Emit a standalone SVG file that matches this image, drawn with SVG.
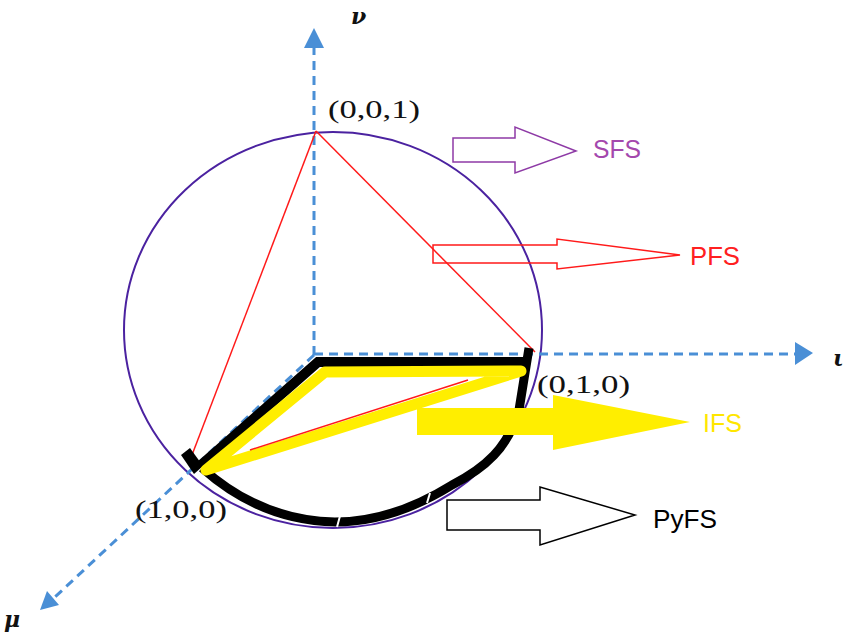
<svg xmlns="http://www.w3.org/2000/svg" width="850" height="640" viewBox="0 0 850 640">
<style>
.axis{stroke:#4a8fd6;stroke-width:3;stroke-dasharray:9 6;fill:none}
.ah{fill:#4a8fd6}
.red{stroke:#ff1a1a;stroke-width:1.5;fill:none}
.coord{font-family:"Liberation Serif","DejaVu Serif",serif;font-size:25px;fill:#111}
.greek{font-family:"DejaVu Serif","Liberation Serif",serif;font-style:italic;font-weight:bold;font-size:22px;fill:#111}
.lbl{font-family:"Liberation Sans",Arial,sans-serif;font-size:26px}
</style>
<rect width="850" height="640" fill="#fff"/>
<g id="circle"><ellipse cx="333" cy="330" rx="209" ry="198" fill="none" stroke="#4b22a0" stroke-width="2"/></g>
<g id="connectors">
<line class="axis" x1="314" y1="355" x2="314" y2="48"/>
<polygon class="ah" points="314,28 304,48 324,48"/>
<line class="axis" x1="314" y1="354" x2="797" y2="354"/>
<polygon class="ah" points="813,353 795,342 795,365"/>
<line class="axis" x1="314" y1="355" x2="55" y2="597"/>
<polygon class="ah" points="40,610 59,605 47,591"/>
<line class="red" x1="316" y1="131" x2="192" y2="455"/>
<line class="red" x1="316" y1="131" x2="535" y2="352"/>
</g>
<g id="pyfs-path">
<polyline points="200,466 318,362 528,362" fill="none" stroke="#000" stroke-width="10" stroke-linejoin="miter"/>
<path d="M529,348 L519,410 C 508,448 485,468 452,485 C 415,508 375,522 335,522 C 285,521 240,502 202,468" fill="none" stroke="#000" stroke-width="9"/>
<polygon points="181,455 190,448 203,466 194,474" fill="#000"/>
<line x1="340" y1="516" x2="337" y2="527" stroke="#fff" stroke-width="2"/>
<line x1="430" y1="493" x2="427" y2="503" stroke="#fff" stroke-width="2"/>
</g>
<g id="ifs-path">
<polygon points="206,470 325,372 521,371" fill="none" stroke="#ffee00" stroke-width="11" stroke-linejoin="round"/>
<line class="red" x1="250" y1="450" x2="468" y2="380"/>
</g>
<g id="label-001"><text class="coord" x="328" y="118" textLength="92" lengthAdjust="spacingAndGlyphs">(0,0,1)</text></g>
<g id="label-010"><text class="coord" x="537" y="393" textLength="93" lengthAdjust="spacingAndGlyphs">(0,1,0)</text></g>
<g id="label-100"><text class="coord" x="135" y="518" textLength="92" lengthAdjust="spacingAndGlyphs">(1,0,0)</text></g>
<g id="label-nu"><text class="greek" x="351" y="24">ν</text></g>
<g id="label-iota"><text class="greek" x="833" y="366">ι</text></g>
<g id="label-mu"><text class="greek" x="4" y="627">μ</text></g>
<g id="sfs">
<polygon points="453,138 515,138 515,127 576,151 515,173 515,162 453,162" fill="#fff" stroke="#8e3aa6" stroke-width="1.5"/>
<text class="lbl" x="593" y="158" fill="#a448ad" textLength="48" lengthAdjust="spacingAndGlyphs">SFS</text>
</g>
<g id="pfs">
<polygon points="433,245 557,245 557,239 680,255 557,269 557,263 433,263" fill="none" stroke="#ff1a1a" stroke-width="1.5"/>
<text class="lbl" x="690" y="265" fill="#ff2020" textLength="50" lengthAdjust="spacingAndGlyphs">PFS</text>
</g>
<g id="ifs">
<polygon points="417,408 553,408 553,395 690,422 553,450 553,435 417,435" fill="#ffee00"/>
<text class="lbl" x="703" y="432" fill="#ffe600" textLength="39" lengthAdjust="spacingAndGlyphs">IFS</text>
</g>
<g id="pyfs">
<polygon points="447,500 540,500 540,487 635,515 540,545 540,530 447,530" fill="none" stroke="#000" stroke-width="1.5"/>
<text class="lbl" x="653" y="528" fill="#000" textLength="64" lengthAdjust="spacingAndGlyphs">PyFS</text>
</g>
</svg>
